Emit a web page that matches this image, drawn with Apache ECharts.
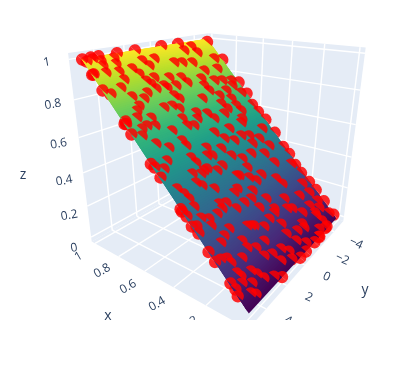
<!DOCTYPE html>
<html><head><meta charset="utf-8"><style>html,body{margin:0;padding:0;background:#fff}#c{width:406px;height:365px}</style>
<script src="https://cdn.jsdelivr.net/npm/echarts@6/dist/echarts.min.js"></script></head><body><div id="c"></div><script>
const xTicks=[0,0.2,0.4,0.6,0.8,1], yTicks=[-4,-2,0,2,4], zTicks=[0,0.2,0.4,0.6,0.8,1];
const xTickLabels=['','0.2','0.4','0.6','0.8','1'], yTickLabels=['−4','−2','0','2','4'], zTickLabels=['0','0.2','0.4','0.6','0.8','1'];
const xRange=[-0.03,1.03], yRange=[-5.5,5.5], zRange=[-0.03,1.03];
const surfaceX=[0,1], surfaceY=[-5,5], surfaceZ=[0,1];
const viridis=['#440154','#482878','#3e4989','#31688e','#26828e','#1f9e89','#35b779','#6ece58','#b5de2b','#fde725'];
const pointX=[.996,.999,.999,.999,.999,.999,.997,.983,.863,.930,.721,.680,.561,.375,.318,.223,.186,.061,.876,.743,.679,.619,.578,.531,.459,.385,.344,.289,.246,.194,.149,.020,.090,.001,.000,.000,.000,.000,.007,.985,.990,.976,.955,.925,.930,.979,.953,.919,.883,.841,.855,.920,.893,.946,.918,.944,.858,.841,.863,.816,.810,.810,.790,.769,.754,.729,.712,.731,.956,.934,.969,.909,.901,.891,.848,.835,.807,.840,.887,.834,.808,.773,.782,.772,.759,.735,.721,.689,.745,.820,.808,.807,.768,.750,.720,.709,.672,.678,.642,.641,.627,.611,.734,.731,.711,.673,.669,.648,.653,.623,.577,.723,.685,.661,.689,.679,.617,.586,.640,.591,.568,.637,.627,.545,.547,.526,.506,.520,.496,.467,.433,.447,.421,.398,.367,.384,.381,.570,.560,.562,.529,.492,.501,.531,.506,.501,.458,.512,.497,.466,.461,.427,.400,.346,.427,.387,.441,.434,.457,.452,.458,.414,.383,.376,.350,.325,.334,.302,.287,.256,.339,.333,.247,.280,.283,.319,.330,.204,.236,.198,.167,.282,.310,.302,.206,.158,.499,.419,.354,.324,.307,.305,.310,.288,.284,.233,.241,.221,.181,.171,.151,.183,.154,.134,.140,.203,.211,.196,.115,.099,.089,.068,.105,.081,.081,.059,.039,.025,.187,.171,.181,.138,.098,.078,.068,.084,.068,.036,.007,.022,.003,.022,.019,.042,.081,.095,.133,.072,.043,.023,.175,.110,.083,.038,.117,.080,.116,.154,.054,.046];
const pointY=[4.99,4.46,3.98,2.78,1.5,-0.58,-2.03,-4.75,4.99,4.99,4.91,4.99,4.99,4.99,4.99,4.99,4.99,4.99,-5,-5,-5,-4.74,-4.83,-5,-5,-4.83,-4.92,-4.75,-4.77,-4.91,-5,-5,-5,1.95,-0.03,-0.73,-1.82,-2.48,-3.45,4.83,4.43,4.06,4.14,4.23,4.91,3.2,3.32,3.45,3.47,4.71,3.95,2.55,2.33,1.56,1.32,.65,2.18,2,1.54,1.89,2.62,3.67,3.05,3.61,3.91,4.16,3.38,4.85,-2.05,-3.04,-2.88,-.6,-1.22,-2.02,.52,-.35,-.54,-2.55,-4.18,-3.8,-1.84,-1.68,-2.8,-3.49,-4.3,-4.07,-3.22,-4.43,-1.8,1.24,1.13,.41,1.02,.82,-.83,-2.33,-2.03,-3.16,-2.24,-3.17,-1.71,-3.29,2.2,1.61,1.28,.31,1.53,.53,-.42,-.68,-2.89,4.99,4.29,4.53,3.91,3.46,4.07,3.5,2.66,2.47,2.43,1.52,1.06,4.92,4.09,4.52,4.95,2.62,2.52,3.18,3.3,4.53,4.34,4.26,4.27,4.99,.51,.02,-1.29,-2.58,1.26,1.23,1.55,-.4,-1.03,.3,-.06,-1.84,-2.48,-3.13,-2.27,-1.63,-2.67,-2.97,-.7,-.61,1.02,1.56,2.36,2.66,2.1,3.07,2.49,.34,-.25,-.6,-1.28,.16,-2.22,-2.41,1.07,1.44,-.43,.6,1.24,2.34,2.79,-1.75,.48,-.5,-1.44,1.99,2.81,-4.37,-4.08,-4.13,-4.01,-3.56,4.93,4.29,3.9,3.28,4.76,4.89,4.04,3.7,3.18,4.11,4.65,4.31,4.28,2.9,2.88,2.37,3.53,1.78,2.02,1.59,4.31,4.21,3.51,3.29,4.93,4.88,4.39,3.88,4.27,4.05,-.31,1.01,.32,-.26,-.13,-1.05,-1.72,-1.78,-3.34,-3.54,-3.66,-2.83,-2.44,-1.1,.62,1.4,1.66,2.22,1.61,.88,3.06,2.42,-3.1,-4.33,-4.07,-4.64,-3.35,-3.43,-2.38,-1.82,-.49,.46];
const pointZ=[.996,.999,.999,.999,.999,.999,.997,.983,.863,.930,.721,.680,.561,.375,.318,.223,.186,.061,.876,.743,.679,.619,.578,.531,.459,.385,.344,.289,.246,.194,.149,.020,.090,.001,.000,.000,.000,.000,.007,.985,.990,.976,.955,.925,.930,.979,.953,.919,.883,.841,.855,.920,.893,.946,.918,.944,.858,.841,.863,.816,.810,.810,.790,.769,.754,.729,.712,.731,.956,.934,.969,.909,.901,.891,.848,.835,.807,.840,.887,.834,.808,.773,.782,.772,.759,.735,.721,.689,.745,.820,.808,.807,.768,.750,.720,.709,.672,.678,.642,.641,.627,.611,.734,.731,.711,.673,.669,.648,.653,.623,.577,.723,.685,.661,.689,.679,.617,.586,.640,.591,.568,.637,.627,.545,.547,.526,.506,.520,.496,.467,.433,.447,.421,.398,.367,.384,.381,.570,.560,.562,.529,.492,.501,.531,.506,.501,.458,.512,.497,.466,.461,.427,.400,.346,.427,.387,.441,.434,.457,.452,.458,.414,.383,.376,.350,.325,.334,.302,.287,.256,.339,.333,.247,.280,.283,.319,.330,.204,.236,.198,.167,.282,.310,.302,.206,.158,.499,.419,.354,.324,.307,.305,.310,.288,.284,.233,.241,.221,.181,.171,.151,.183,.154,.134,.140,.203,.211,.196,.115,.099,.089,.068,.105,.081,.081,.059,.039,.025,.187,.171,.181,.138,.098,.078,.068,.084,.068,.036,.007,.022,.003,.022,.019,.042,.081,.095,.133,.072,.043,.023,.175,.110,.083,.038,.117,.080,.116,.154,.054,.046];
const anchors=[[1,1,0,92,242],[0,1,0,249,328],[0,0,0,343,219],[1,1,1,69,51],[1,0,1,208,34],[0,0,1,366,48],
[.9717,.9545,.9717,81,60],[.9717,.0455,.9717,207,38],[.0283,.0455,.0283,337,220],[.0283,.9545,.0283,247,315]];
function solve(A,b){const n=b.length;for(let i=0;i<n;i++){let m=i;for(let r=i+1;r<n;r++)if(Math.abs(A[r][i])>Math.abs(A[m][i]))m=r;[A[i],A[m]]=[A[m],A[i]];[b[i],b[m]]=[b[m],b[i]];for(let r=i+1;r<n;r++){const f=A[r][i]/A[i][i];for(let c=i;c<n;c++)A[r][c]-=f*A[i][c];b[r]-=f*b[i];}}const x=Array(n);for(let i=n-1;i>=0;i--){let s=b[i];for(let c=i+1;c<n;c++)s-=A[i][c]*x[c];x[i]=s/A[i][i];}return x;}
const P=(function(){const N=Array.from({length:11},()=>Array(11).fill(0)),B=Array(11).fill(0);const add=(r,v)=>{for(let i=0;i<11;i++){for(let j=0;j<11;j++)N[i][j]+=r[i]*r[j];B[i]+=r[i]*v;}};
anchors.forEach(([X,Y,Z,u,v])=>{add([X,Y,Z,1,0,0,0,0,-u*X,-u*Y,-u*Z],u);add([0,0,0,0,X,Y,Z,1,-v*X,-v*Y,-v*Z],v);});return solve(N,B);})();
function projN(a,b,c){const w=P[8]*a+P[9]*b+P[10]*c+1;return[(P[0]*a+P[1]*b+P[2]*c+P[3])/w,(P[4]*a+P[5]*b+P[6]*c+P[7])/w];}
const nx=v=>(v-xRange[0])/(xRange[1]-xRange[0]),ny=v=>(v-yRange[0])/(yRange[1]-yRange[0]),nz=v=>(v-zRange[0])/(zRange[1]-zRange[0]);
const project=(x,y,z)=>projN(nx(x),ny(y),nz(z));
function viridisAt(t){const p=Math.min(.9999,Math.max(0,t))*(viridis.length-1),i=Math.floor(p),f=p-i;const h=s=>[1,3,5].map(k=>parseInt(s.substr(k,2),16));const a=h(viridis[i]),b=h(viridis[i+1]);return`rgb(${a.map((v,k)=>Math.round(v+(b[k]-v)*f)).join(',')})`;}
const clip={type:'rect',shape:{x:0,y:0,width:406,height:320}};
const TEXT='#2a3f5f',FONT='"Open Sans",sans-serif',RED='rgba(255,0,0,0.84)',MARKER_R=6.2,DOME=-50*Math.PI/180;
const poly=(pts,style)=>({type:'polygon',shape:{points:pts},style});
const line=(a,b)=>({type:'line',shape:{x1:a[0],y1:a[1],x2:b[0],y2:b[1]},style:{stroke:'#fff',lineWidth:1.4}});
function sceneItem(){const wall='#e5ecf6',ch=[];
 ch.push(poly([projN(1,0,0),projN(1,1,0),projN(1,1,1),projN(1,0,1)],{fill:wall}));
 ch.push(poly([projN(0,0,0),projN(1,0,0),projN(1,0,1),projN(0,0,1)],{fill:wall}));
 ch.push(poly([projN(0,0,0),projN(0,1,0),projN(1,1,0),projN(1,0,0)],{fill:wall}));
 zTicks.forEach(t=>{const z=nz(t);ch.push(line(projN(1,0,z),projN(1,1,z)));ch.push(line(projN(0,0,z),projN(1,0,z)));});
 xTicks.forEach(t=>{const x=nx(t);ch.push(line(projN(x,0,0),projN(x,0,1)));ch.push(line(projN(x,0,0),projN(x,1,0)));});
 yTicks.forEach(t=>{const y=ny(t);ch.push(line(projN(1,y,0),projN(1,y,1)));ch.push(line(projN(0,y,0),projN(1,y,0)));});
 return{type:'group',clipPath:clip,children:ch};}
function labelEl(text,p,rot,size){return{type:'text',x:p[0],y:p[1],rotation:rot*Math.PI/180,style:{text,fill:TEXT,font:`${size||12}px ${FONT}`,align:'center',verticalAlign:'middle'}};}
function labelItem(){const ch=[];
 zTicks.forEach((t,i)=>{const p=projN(1,1,nz(t));ch.push(labelEl(zTickLabels[i],[p[0]-22+5*(1-t),p[1]+3+8*(1-t)],10));});
 xTicks.forEach((t,i)=>{const p=projN(nx(t),1,0);if(xTickLabels[i])ch.push(labelEl(xTickLabels[i],[p[0]-16.5,p[1]+19.2-6.2*t],30));});
 yTicks.forEach((t,i)=>{const p=projN(0,ny(t),0);ch.push(labelEl(yTickLabels[i],[p[0]+22,p[1]+12],-25));});
 ch.push(labelEl('z',[23,175],0,14));ch.push(labelEl('x',[108,316],0,14));ch.push(labelEl('y',[365,290],0,14));
 return{type:'group',clipPath:clip,children:ch};}
const SUBSTRIPS=128;
const stripIndex=Array.from({length:SUBSTRIPS},(_,i)=>i);
function halfDisc(i,front){const p=project(pointX[i],pointY[i],pointZ[i]);const a=front?DOME-Math.PI/2:DOME+Math.PI/2;
 return{type:'sector',clipPath:clip,shape:{cx:p[0],cy:p[1],r:MARKER_R,r0:0,startAngle:a,endAngle:a+Math.PI,clockwise:true},style:{fill:RED}};}
const pointIndex=pointX.map((_,i)=>i);
const chart=echarts.init(document.getElementById('c'),null,{renderer:'canvas'});
chart.setOption({animation:false,backgroundColor:'#fff',series:[
{type:'custom',coordinateSystem:'none',z:1,data:[0],silent:true,renderItem:()=>sceneItem()},
{type:'custom',name:'points behind',coordinateSystem:'none',z:2,data:pointIndex,silent:true,renderItem:(p,api)=>halfDisc(api.value(0),false)},
{type:'custom',name:'surface',coordinateSystem:'none',z:3,data:stripIndex,silent:true,renderItem:(p,api)=>{const i=api.value(0);
 const mix=(r,k)=>r[0]+(r[1]-r[0])*k;const f=i/SUBSTRIPS,g=Math.min(1,(i+3)/SUBSTRIPS);const c=viridisAt((i+.5)/SUBSTRIPS);
 const xa=mix(surfaceX,f),xb=mix(surfaceX,g),za=mix(surfaceZ,f),zb=mix(surfaceZ,g);
 return poly([project(xa,surfaceY[0],za),project(xb,surfaceY[0],zb),project(xb,surfaceY[1],zb),project(xa,surfaceY[1],za)],{fill:c});}},
{type:'custom',name:'points',coordinateSystem:'none',z:4,data:pointIndex,silent:true,renderItem:(p,api)=>halfDisc(api.value(0),true)},
{type:'custom',coordinateSystem:'none',z:5,data:[0],silent:true,renderItem:()=>labelItem()}
]});
</script></body></html>
